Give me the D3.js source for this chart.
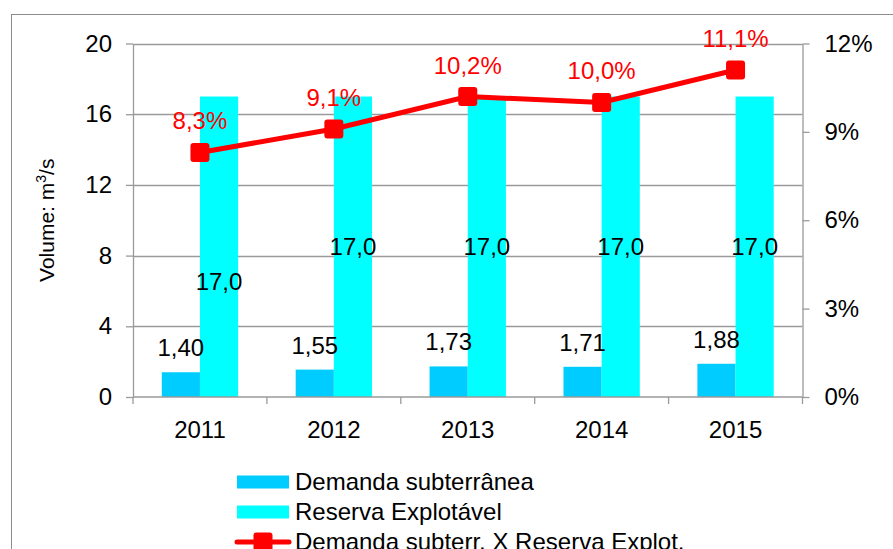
<!DOCTYPE html>
<html>
<head>
<meta charset="utf-8">
<script src="https://cdn.jsdelivr.net/npm/d3@7"></script>
<style>
html,body{margin:0;padding:0;background:#fff;overflow:hidden;}
text{font-family:"Liberation Sans",Arial,sans-serif;}
</style>
</head>
<body>
<svg id="chart" width="893" height="549"></svg>
<script>
const categories = ["2011","2012","2013","2014","2015"];
const demanda = [1.40, 1.55, 1.73, 1.71, 1.88];
const reserva = [17.0, 17.0, 17.0, 17.0, 17.0];
const ratio = [8.3, 9.1, 10.2, 10.0, 11.1];
const leftTicks = [0, 4, 8, 12, 16, 20];
const rightTicks = [0, 3, 6, 9, 12];
const seriesNames = ["Demanda subterrânea", "Reserva Explotável", "Demanda subterr. X Reserva Explot."];

const fmt = (v, d) => v.toFixed(d).replace(".", ",");
const svg = d3.select("#chart");
const L = 133, R = 802.5, T = 43.5, B = 397;
const FS = 24;

// outer border
svg.append("rect").attr("x", 11.5).attr("y", 14.5).attr("width", 900).attr("height", 600)
  .attr("fill", "none").attr("stroke", "#8c8c8c").attr("stroke-width", 1);

const x = d3.scaleBand().domain(categories).range([L, R]).paddingInner(0).paddingOuter(0);
const yL = d3.scaleLinear().domain([0, 20]).range([B, T]);
const yR = d3.scaleLinear().domain([0, 12]).range([B, T]);
const barW = x.bandwidth() * 0.285;

// gridlines
svg.append("g").selectAll("line").data(leftTicks.filter(d => d > 0)).join("line")
  .attr("x1", L).attr("x2", R).attr("y1", d => Math.round(yL(d)) + 0.5).attr("y2", d => Math.round(yL(d)) + 0.5)
  .attr("stroke", "#9a9a9a").attr("stroke-width", 1.3);

// bars
const cx = d => x(d) + x.bandwidth() / 2;
svg.append("g").selectAll("rect").data(categories).join("rect")
  .attr("x", (d) => cx(d) - barW).attr("width", barW)
  .attr("y", (d, i) => yL(demanda[i])).attr("height", (d, i) => B - yL(demanda[i]))
  .attr("fill", "#00ccff");
svg.append("g").selectAll("rect").data(categories).join("rect")
  .attr("x", (d) => cx(d)).attr("width", barW)
  .attr("y", (d, i) => yL(reserva[i])).attr("height", (d, i) => B - yL(reserva[i]))
  .attr("fill", "#00ffff");

// axes
const axisStyle = g => {
  g.selectAll("path.domain").attr("stroke", "#9a9a9a").attr("stroke-width", 1.3);
  g.selectAll(".tick line").attr("stroke", "#9a9a9a").attr("stroke-width", 1.3);
  g.selectAll(".tick text").attr("fill", "#000").style("font-size", FS + "px").style("font-family", "'Liberation Sans', Arial, sans-serif");
};
svg.append("g").attr("transform", `translate(${L},0)`)
  .call(d3.axisLeft(yL).tickValues(leftTicks).tickSize(7).tickSizeOuter(0).tickPadding(14))
  .call(axisStyle);
svg.append("g").attr("transform", `translate(${R},0)`)
  .call(d3.axisRight(yR).tickValues(rightTicks).tickFormat(d => d + "%").tickSize(7).tickSizeOuter(0).tickPadding(15))
  .call(axisStyle);
// x axis with ticks at category boundaries
const xg = svg.append("g").attr("transform", `translate(0,${B})`);
xg.append("line").attr("x1", L).attr("x2", R).attr("y1", 0).attr("y2", 0).attr("stroke", "#9a9a9a").attr("stroke-width", 1.3);
xg.selectAll("line.tk").data(categories.concat(["end"])).join("line").attr("class", "tk")
  .attr("x1", (d, i) => L + i * x.bandwidth()).attr("x2", (d, i) => L + i * x.bandwidth())
  .attr("y1", 0).attr("y2", 7).attr("stroke", "#9a9a9a").attr("stroke-width", 1.3);
xg.selectAll("text").data(categories).join("text")
  .attr("x", d => cx(d)).attr("y", 41).attr("text-anchor", "middle").style("font-size", FS + "px").text(d => d);

// y title
svg.append("text").attr("transform", `translate(54,${(T + B) / 2}) rotate(-90)`)
  .attr("text-anchor", "middle").style("font-size", "21px")
  .html('Volume: m<tspan baseline-shift="super" font-size="14px">3</tspan>/s');

// line
const line = d3.line().x((d, i) => cx(categories[i])).y(d => yR(d));
svg.append("path").datum(ratio).attr("d", line).attr("fill", "none").attr("stroke", "#ff0000").attr("stroke-width", 5);
svg.append("g").selectAll("rect").data(ratio).join("rect")
  .attr("x", (d, i) => cx(categories[i]) - 9.5).attr("y", d => yR(d) - 9.5)
  .attr("width", 19).attr("height", 19).attr("rx", 3).attr("fill", "#ff0000");

// labels
svg.append("g").selectAll("text").data(demanda).join("text")
  .attr("x", (d, i) => cx(categories[i]) - barW / 2).attr("y", d => yL(d) - 16)
  .attr("text-anchor", "middle").style("font-size", FS + "px").text(d => fmt(d, 2));
const reservaLabelShift = [2.0, 0, 0, 0, 0];
svg.append("g").selectAll("text").data(reserva).join("text")
  .attr("x", (d, i) => cx(categories[i]) + barW / 2).attr("y", (d, i) => yL(d / 2 - 0.47 - reservaLabelShift[i]))
  .attr("text-anchor", "middle").style("font-size", FS + "px").text(d => fmt(d, 1));
svg.append("g").selectAll("text").data(ratio).join("text")
  .attr("x", (d, i) => cx(categories[i])).attr("y", d => yR(d) - 23)
  .attr("text-anchor", "middle").attr("fill", "#ff0000").style("font-size", FS + "px").text(d => fmt(d, 1) + "%");

// legend
const lg = svg.append("g");
const lx = 237, ly = [482, 512, 542];
lg.append("rect").attr("x", lx).attr("y", ly[0] - 6.5).attr("width", 52).attr("height", 13).attr("fill", "#00ccff");
lg.append("rect").attr("x", lx).attr("y", ly[1] - 6.5).attr("width", 52).attr("height", 13).attr("fill", "#00ffff");
lg.append("line").attr("x1", lx).attr("x2", lx + 52).attr("y1", ly[2]).attr("y2", ly[2]).attr("stroke", "#ff0000").attr("stroke-width", 5).attr("stroke-linecap", "round");
lg.append("rect").attr("x", lx + 26 - 9.5).attr("y", ly[2] - 9.5).attr("width", 19).attr("height", 19).attr("rx", 3).attr("fill", "#ff0000");
lg.selectAll("text").data(seriesNames).join("text")
  .attr("x", lx + 58).attr("y", (d, i) => ly[i] + 8).style("font-size", FS + "px").text(d => d);
</script>
</body>
</html>
